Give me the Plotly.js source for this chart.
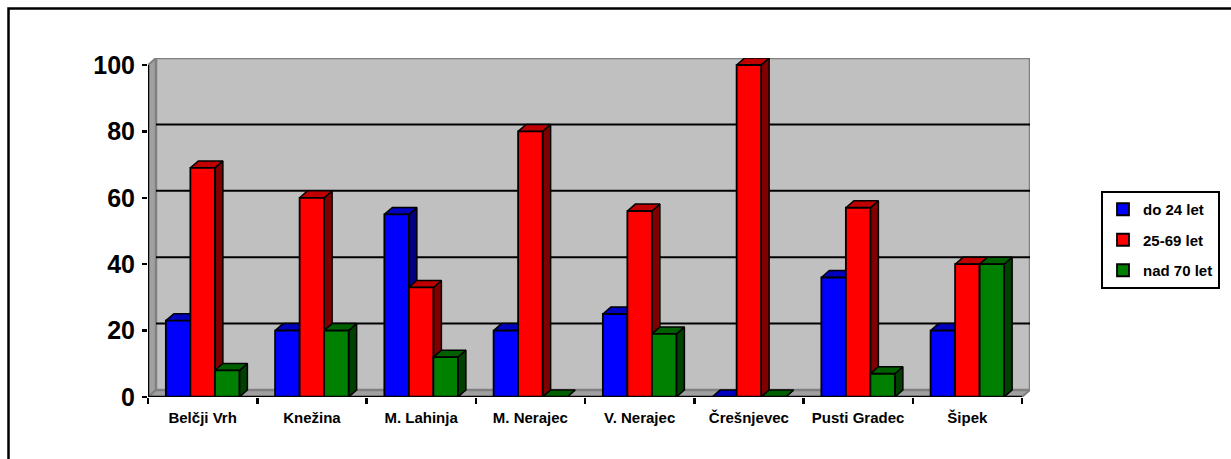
<!DOCTYPE html>
<html>
<head>
<meta charset="utf-8">
<script src="https://cdn.plot.ly/plotly-3.0.1.min.js"></script>
<style>html,body{margin:0;padding:0;background:#fff;}#chart{width:1231px;height:459px;}</style>
</head>
<body>
<div id="chart"></div>
<script>
const categories = ['Belčji Vrh','Knežina','M. Lahinja','M. Nerajec','V. Nerajec','Črešnjevec','Pusti Gradec','Šipek'];
const seriesNames = ['do 24 let','25-69 let','nad 70 let'];
const do24 = [23,20,55,20,25,0,36,20];
const mid2569 = [69,60,33,80,56,100,57,40];
const nad70 = [8,20,12,0,19,0,7,40];
const yTicks = [0,20,40,60,80,100];

const frontColors = ['#0000ff','#ff0000','#008000'];
const topColors = ['#0000c0','#c00000','#006000'];
const sideColors = ['#000080','#800000','#004000'];

const FONT = 'Liberation Sans, Arial, sans-serif';
const W = 1231, H = 459;
const L = 148, R = 1030, T = 58, B = 397;
const pxX = 109.25, pxY = 3.32;
const xRange = [-0.5, -0.5 + (R - L) / pxX];
const yRange = [0, (B - T) / pxY];
const dx = 8 / pxX, dy = 7 / pxY;
const bargap = 0.327;
const w = (1 - bargap) / 3;

const allSeries = [do24, mid2569, nad70];
const idx = categories.map((c, i) => i);

const traces = [];
// side and top faces (3D look), derived from the data
['side','top'].forEach(face => {
  allSeries.forEach((vals, k) => {
    const xs = [], ys = [];
    vals.forEach((v, i) => {
      const x0 = i + (k - 1) * w - w / 2, x1 = x0 + w;
      if (face === 'top') {
        xs.push(x0, x1, x1 + dx, x0 + dx, x0, null);
        ys.push(v, v, v + dy, v + dy, v, null);
      } else {
        xs.push(x1, x1, x1 + dx, x1 + dx, x1, null);
        ys.push(0, v, v + dy, dy, 0, null);
      }
    });
    traces.push({
      type: 'scatter', mode: 'lines', x: xs, y: ys, fill: 'toself',
      fillcolor: face === 'top' ? topColors[k] : sideColors[k],
      line: {color: '#000', width: 1.5}, showlegend: false, hoverinfo: 'skip',
      xaxis: 'x', yaxis: 'y'
    });
  });
});
// front faces
allSeries.forEach((vals, k) => {
  traces.push({
    type: 'bar', name: seriesNames[k], x: idx, y: vals,
    marker: {color: frontColors[k], line: {color: '#000', width: 1.8}},
    xaxis: 'x2', yaxis: 'y2', legendgroup: 'g' + k
  });
});

const shapes = [];
// left wall
shapes.push({type:'path', xref:'x', yref:'y', layer:'below',
  path:`M${-0.5},0 L${-0.5},100 L${-0.5+dx},${100+dy} L${-0.5+dx},${dy} Z`,
  fillcolor:'#a0a0a0', line:{color:'#808080', width:2}});
// floor
shapes.push({type:'path', xref:'x', yref:'y', layer:'below',
  path:`M${-0.5},0 L7.5,0 L${7.5+dx},${dy} L${-0.5+dx},${dy} Z`,
  fillcolor:'#a0a0a0', line:{color:'#808080', width:2}});
// back wall
shapes.push({type:'rect', xref:'x', yref:'y', layer:'below',
  x0:-0.5+dx, x1:7.5+dx, y0:dy, y1:100+dy,
  fillcolor:'#c0c0c0', line:{color:'#808080', width:2.5}});
// gridlines on the back wall
yTicks.filter(v => v > 0 && v < 100).forEach(v => {
  shapes.push({type:'line', xref:'x', yref:'y', layer:'below',
    x0:-0.5+dx, x1:7.5+dx, y0:v+dy, y1:v+dy, line:{color:'#000', width:2}});
});
// axis lines
shapes.push({type:'line', xref:'x', yref:'y', layer:'above', x0:-0.5, x1:-0.5, y0:0, y1:100, line:{color:'#000', width:2.5}});
shapes.push({type:'line', xref:'x', yref:'y', layer:'above', x0:-0.5, x1:7.5, y0:0, y1:0, line:{color:'#000', width:2.5}});
// outer frame (only top and left edges visible)
shapes.push({type:'rect', xref:'paper', yref:'paper',
  x0:(8.5 - L)/(R - L), x1:(1240 - L)/(R - L), y0:(B - 470)/(B - T), y1:(B - 8.5)/(B - T),
  line:{color:'#000', width:2.5}, fillcolor:'rgba(0,0,0,0)'});

const layout = {
  width: W, height: H,
  margin: {l: L, r: W - R, t: T, b: H - B, pad: 0},
  paper_bgcolor: '#fff', plot_bgcolor: 'rgba(0,0,0,0)',
  font: {family: FONT, color: '#000'},
  showlegend: true,
  barmode: 'group', bargap: bargap, bargroupgap: 0,
  xaxis: {range: xRange, tickmode: 'array', tickvals: idx, ticktext: categories,
    ticks: '', showgrid: false, zeroline: false, showline: false, fixedrange: true,
    ticklabelstandoff: 10,
    tickfont: {family: FONT, size: 15, color: '#000', weight: 'bold'}},
  xaxis2: {range: xRange, overlaying: 'x', anchor: 'y2', side: 'bottom',
    tickmode: 'array', tickvals: [-0.5,0.5,1.5,2.5,3.5,4.5,5.5,6.5,7.5],
    ticks: 'outside', ticklen: 6, tickwidth: 2.5, tickcolor: '#000',
    showticklabels: false, showgrid: false, zeroline: false, showline: false, fixedrange: true},
  yaxis: {range: yRange, tickmode: 'array', tickvals: yTicks, ticktext: yTicks.map(String),
    ticks: 'outside', ticklen: 5, tickwidth: 2.5, tickcolor: '#000',
    showgrid: false, zeroline: false, showline: false, fixedrange: true,
    ticklabelstandoff: 2,
    tickfont: {family: FONT, size: 25, color: '#000', weight: 'bold'}},
  yaxis2: {range: yRange, overlaying: 'y', visible: false, fixedrange: true},
  legend: {xref: 'container', yref: 'container', x: 1101 / W, y: 1 - 191 / H,
    xanchor: 'left', yanchor: 'top', bordercolor: '#000', borderwidth: 2,
    bgcolor: '#fff', traceorder: 'grouped', tracegroupgap: 8, itemwidth: 30,
    font: {family: FONT, size: 15, color: '#000', weight: 'bold'}},
  shapes: shapes
};

Plotly.newPlot('chart', traces, layout, {staticPlot: true, displayModeBar: false});
</script>
</body>
</html>
